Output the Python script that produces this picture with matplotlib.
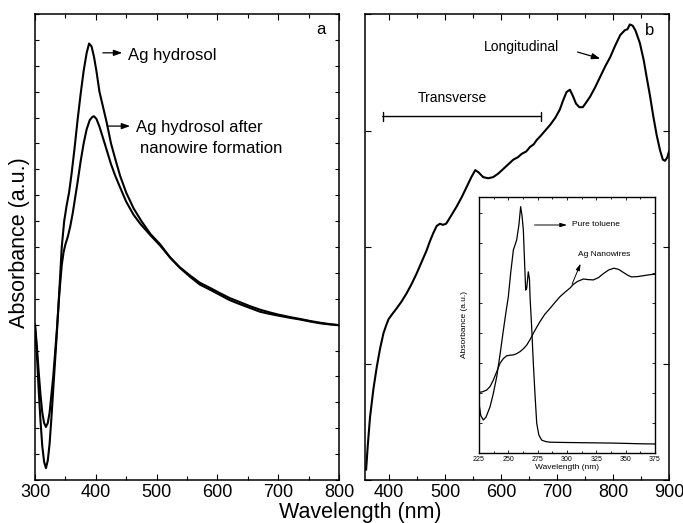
import numpy as np
import matplotlib
matplotlib.use("Agg")
import matplotlib.pyplot as plt
from matplotlib.ticker import MultipleLocator, NullFormatter

plt.rcParams['font.family'] = ['Liberation Sans', 'DejaVu Sans']

# ---------------- Panel a data ----------------
wl_a1 = [300, 303, 306, 309, 312, 315, 318, 321, 324, 327, 330, 333, 336, 340, 344, 348, 352,
         356, 360, 365, 370, 375, 380, 385, 389, 393, 397, 401, 406, 412, 418, 425, 432, 440,
         450, 462, 475, 490, 506, 522, 538, 555, 571, 588, 604, 620, 636, 653, 670, 685, 700,
         718, 736, 753, 770, 785, 800]
abs_a1 = [6.0, 4.9, 3.5, 2.3, 1.3, 0.7, 0.46, 0.75, 1.4, 2.4, 3.5, 4.6, 5.7, 7.3, 9.0, 10.0, 10.6,
          11.1, 11.8, 12.8, 13.9, 14.9, 15.8, 16.5, 16.86, 16.75, 16.35, 15.8, 15.0, 14.4, 13.8,
          13.0, 12.4, 11.75, 11.1, 10.5, 10.0, 9.5, 9.1, 8.6, 8.2, 7.85, 7.55, 7.35, 7.15, 6.95,
          6.8, 6.65, 6.5, 6.42, 6.35, 6.27, 6.2, 6.12, 6.05, 6.01, 5.98]

wl_a2 = [300, 303, 306, 309, 312, 315, 318, 321, 324, 327, 330, 333, 336, 340, 344, 347, 350,
         354, 358, 362, 366, 370, 375, 380, 385, 390, 394, 397, 401, 406, 412, 418, 425, 432,
         440, 450, 462, 473, 490, 506, 522, 538, 555, 571, 588, 604, 620, 636, 653, 670, 685,
         700, 718, 736, 753, 770, 785, 800]
abs_a2 = [6.0, 5.2, 4.2, 3.3, 2.6, 2.2, 2.05, 2.2, 2.6, 3.3, 4.0, 4.9, 5.8, 7.2, 8.3, 8.8, 9.1,
          9.4, 9.8, 10.3, 10.9, 11.5, 12.3, 13.0, 13.55, 13.9, 14.02, 14.05, 13.95, 13.65, 13.2,
          12.74, 12.2, 11.75, 11.3, 10.75, 10.25, 9.9, 9.45, 9.05, 8.6, 8.22, 7.9, 7.62, 7.42,
          7.22, 7.03, 6.88, 6.72, 6.58, 6.48, 6.39, 6.3, 6.22, 6.14, 6.07, 6.02, 5.98]

# ---------------- Panel b data ----------------
wl_b = [359, 362, 366, 372, 378, 384, 390, 395, 399, 405, 413, 422, 431, 440, 449, 458, 467,
        473, 479, 485, 491, 496, 502, 511, 521, 530, 539, 547, 554, 560, 568, 577, 586, 595,
        604, 613, 622, 630, 637, 645, 652, 658, 664, 670, 679, 688, 697, 705, 711, 717, 723,
        728, 734, 740, 746, 752, 759, 768, 777, 786, 795, 804, 813, 821, 826, 830, 835, 840,
        848, 855, 860, 866, 872, 878, 884, 889, 893, 897, 900]
abs_b = [0.09, 0.3, 0.54, 0.78, 0.97, 1.13, 1.26, 1.33, 1.38, 1.42, 1.47, 1.53, 1.6, 1.68, 1.77,
         1.87, 1.97, 2.05, 2.12, 2.18, 2.2, 2.19, 2.2, 2.27, 2.35, 2.43, 2.52, 2.6, 2.66, 2.64,
         2.6, 2.59, 2.6, 2.63, 2.67, 2.71, 2.75, 2.77, 2.8, 2.82, 2.86, 2.88, 2.92, 2.95, 3.0,
         3.05, 3.11, 3.18, 3.26, 3.33, 3.35, 3.3, 3.23, 3.2, 3.2, 3.24, 3.29, 3.37, 3.46, 3.55,
         3.63, 3.73, 3.82, 3.86, 3.87, 3.91, 3.9, 3.86, 3.75, 3.6, 3.46, 3.3, 3.12, 2.96, 2.83,
         2.75, 2.74, 2.77, 2.82]

# ---------------- Inset data ----------------
wl_tol = [225, 226.5, 228.7, 231, 234.4, 237, 240.1, 243, 245.8, 248, 250, 252, 254.3, 257.1,
          259, 260.5, 261.7, 262.8, 264, 264.8, 265.7, 267, 268, 268.5, 270, 271.3, 272.8,
          274.2, 276, 278.4, 282, 285.5, 300, 320, 340, 350, 360, 375]
abs_tol = [1.66, 1.25, 1.1, 1.2, 1.54, 1.95, 2.54, 3.3, 4.1, 4.7, 5.21, 6.0, 6.77, 7.1, 7.6,
           8.21, 7.9, 7.43, 6.2, 5.43, 5.5, 6.04, 5.8, 5.21, 4.1, 2.99, 1.9, 0.99, 0.6, 0.43,
           0.38, 0.36, 0.35, 0.34, 0.33, 0.32, 0.31, 0.3]

wl_ag = [225, 228, 231.6, 234.5, 237.2, 240, 242.9, 245.8, 248.6, 251.5, 254.3, 257, 260,
         263, 265.7, 268.5, 271.3, 274, 277, 281, 285.5, 290, 294, 298, 302.6, 305.4, 309,
         314, 318, 322.5, 327, 331, 335.5, 340, 344, 348, 352, 355, 360, 365, 370, 375]
abs_ag = [2.02, 2.04, 2.1, 2.22, 2.43, 2.7, 2.99, 3.15, 3.24, 3.26, 3.27, 3.31, 3.38, 3.48,
          3.6, 3.78, 3.99, 4.18, 4.38, 4.62, 4.82, 5.03, 5.21, 5.35, 5.5, 5.62, 5.72, 5.8,
          5.78, 5.77, 5.85, 5.98, 6.1, 6.16, 6.12, 6.02, 5.92, 5.87, 5.88, 5.91, 5.94, 5.96]

W, H = 683, 523
fig = plt.figure(figsize=(W / 100, H / 100), dpi=100)

def px_axes(l, r, t, b):
    return fig.add_axes([l / W, 1 - b / H, (r - l) / W, (b - t) / H])

ax_a = px_axes(35, 339, 14, 480)
ax_b = px_axes(365, 669, 14, 480)
ax_in = px_axes(479, 655, 197, 453)

lw_main = 1.5
for ax in (ax_a, ax_b, ax_in):
    for s in ax.spines.values():
        s.set_linewidth(1.1)
    ax.tick_params(which='both', direction='in', top=True, right=True)

# Panel a
ax_a.plot(wl_a1, abs_a1, color='black', lw=lw_main)
ax_a.plot(wl_a2, abs_a2, color='black', lw=lw_main)
ax_a.set_xlim(300, 800)
ax_a.set_ylim(0, 18)
ax_a.xaxis.set_major_locator(MultipleLocator(100))
ax_a.xaxis.set_minor_locator(MultipleLocator(50))
ax_a.yaxis.set_major_locator(MultipleLocator(1))
ax_a.yaxis.set_major_formatter(NullFormatter())
ax_a.tick_params(which='major', length=4, width=0.8, labelsize=13, pad=3)
ax_a.tick_params(which='minor', length=3, width=0.8)
ax_a.tick_params(axis='y', which='major', length=3)
ax_a.text(770, 17.4, 'a', fontsize=12, ha='center', va='center')
ax_a.annotate('', xy=(448, 16.5), xytext=(407, 16.5),
              arrowprops=dict(arrowstyle='-|>,head_length=0.5,head_width=0.18', color='black', lw=0.9))
ax_a.text(453, 16.4, 'Ag hydrosol', fontsize=12, ha='left', va='center')
ax_a.annotate('', xy=(461, 13.67), xytext=(415, 13.67),
              arrowprops=dict(arrowstyle='-|>,head_length=0.5,head_width=0.18', color='black', lw=0.9))
ax_a.text(466, 13.62, 'Ag hydrosol after', fontsize=12, ha='left', va='center')
ax_a.text(473, 12.82, 'nanowire formation', fontsize=12, ha='left', va='center')

# Panel b
ax_b.plot(wl_b, abs_b, color='black', lw=lw_main)
ax_b.set_xlim(357, 900)
ax_b.set_ylim(0, 4)
ax_b.xaxis.set_major_locator(MultipleLocator(100))
ax_b.xaxis.set_minor_locator(MultipleLocator(50))
ax_b.yaxis.set_major_locator(MultipleLocator(1))
ax_b.yaxis.set_major_formatter(NullFormatter())
ax_b.tick_params(which='major', length=4, width=0.8, labelsize=13, pad=3)
ax_b.tick_params(which='minor', length=3, width=0.8)
ax_b.text(866, 3.86, 'b', fontsize=12, ha='center', va='center')
ax_b.text(637, 3.72, 'Longitudinal', fontsize=10, ha='center', va='center')
ax_b.annotate('', xy=(782, 3.61), xytext=(732, 3.68),
              arrowprops=dict(arrowstyle='-|>,head_length=0.5,head_width=0.18', color='black', lw=0.9))
ax_b.text(513, 3.28, 'Transverse', fontsize=10, ha='center', va='center')
ax_b.annotate('', xy=(671, 3.12), xytext=(389, 3.12),
              arrowprops=dict(arrowstyle='|-|,widthA=0.35,widthB=0.35', color='black', lw=1.0,
                              shrinkA=0, shrinkB=0))

# Inset
ax_in.plot(wl_tol, abs_tol, color='black', lw=0.9)
ax_in.plot(wl_ag, abs_ag, color='black', lw=0.9)
ax_in.set_xlim(225, 375)
ax_in.set_ylim(0, 256 / 30)
ax_in.xaxis.set_major_locator(MultipleLocator(25))
ax_in.xaxis.set_minor_locator(MultipleLocator(12.5))
ax_in.yaxis.set_major_locator(MultipleLocator(1))
ax_in.yaxis.set_major_formatter(NullFormatter())
ax_in.tick_params(which='major', length=2.5, width=0.6, labelsize=5, pad=2)
ax_in.tick_params(which='minor', length=1.5, width=0.6)
for s in ax_in.spines.values():
    s.set_linewidth(1.0)
ax_in.set_xlabel('Wavelength (nm)', fontsize=6, labelpad=1)
ax_in.set_ylabel('Absorbance (a.u.)', fontsize=6, labelpad=6)
ax_in.annotate('', xy=(302.4, 7.6), xytext=(270, 7.6),
               arrowprops=dict(arrowstyle='-|>,head_length=0.4,head_width=0.12', color='black', lw=0.7))
ax_in.text(304, 7.6, 'Pure toluene', fontsize=6, ha='left', va='center')
ax_in.text(309.4, 6.63, 'Ag Nanowires', fontsize=6, ha='left', va='center')
ax_in.annotate('', xy=(312.5, 6.4), xytext=(303.4, 5.54),
               arrowprops=dict(arrowstyle='-|>,head_length=0.4,head_width=0.12', color='black', lw=0.7))

# Shared labels
fig.text(20 / W, 1 - 243 / H, 'Absorbance (a.u.)', rotation=90, fontsize=15.5,
         ha='center', va='center')
fig.text(360 / W, 1 - 518 / H, 'Wavelength (nm)', fontsize=15.5, ha='center', va='baseline')

fig.savefig('out.png', dpi=100)
